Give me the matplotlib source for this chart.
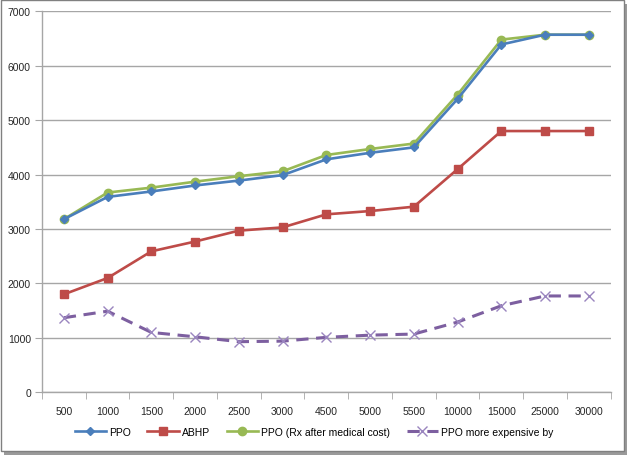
import matplotlib
matplotlib.use("Agg")
import matplotlib.pyplot as plt
from matplotlib.patches import Rectangle

categories = ["500", "1000", "1500", "2000", "2500", "3000", "4500", "5000", "5500",
              "10000", "15000", "25000", "30000"]
ppo = [3180, 3590, 3690, 3800, 3890, 3990, 4280, 4400, 4500, 5390, 6390, 6570, 6570]
abhp = [1800, 2100, 2590, 2770, 2970, 3030, 3270, 3330, 3410, 4100, 4800, 4800, 4800]
ppo_rx = [3180, 3670, 3760, 3870, 3970, 4060, 4360, 4470, 4570, 5470, 6480, 6570, 6570]
diff = [1370, 1490, 1100, 1020, 930, 940, 1010, 1050, 1070, 1290, 1590, 1770, 1770]

plt.rcParams['font.family'] = ['Liberation Sans', 'DejaVu Sans']

W, H = 628, 456
fig = plt.figure(figsize=(W/100, H/100), dpi=100)
fig.patch.set_facecolor('white')

# border with shadow
fig.patches.append(Rectangle((4/W, 0/H), (W-5)/W, (H-5)/H, transform=fig.transFigure,
                             facecolor='#9a9a9a', edgecolor='none', zorder=-3))
fig.patches.append(Rectangle((1/W, 4/H), (W-5)/W, (H-5)/H, transform=fig.transFigure,
                             facecolor='white', edgecolor='#808080', linewidth=1.0, zorder=-2))

ax = fig.add_axes([42/W, (H-393.3)/H, (610.7-42)/W, (393.3-12.3)/H])
ax.set_facecolor('none')
x = list(range(len(categories)))

ax.plot(x, ppo, color='#4A7EBB', lw=1.9, marker='D', ms=4, label='PPO', zorder=4)
ax.plot(x, abhp, color='#BE4B48', lw=1.9, marker='s', ms=6, label='ABHP', zorder=3)
ax.plot(x, ppo_rx, color='#98B954', lw=1.9, marker='o', ms=6, label='PPO (Rx after medical cost)', zorder=3)
ax.plot(x, diff, color='#7D5FA0', lw=2.2, ls=(0, (4, 2.5)), marker='x', ms=7, mew=1.0,
        markeredgecolor='#9a85bf', label='PPO more expensive by', zorder=3)

ax.set_xlim(-0.5, len(categories) - 0.5)
ax.set_ylim(0, 7000)
ax.set_yticks(range(0, 7001, 1000))
ax.yaxis.grid(True, color='#a6a6a6', lw=1.0)
ax.set_axisbelow(True)
ax.set_xticks(x)
ax.set_xticklabels(categories)
ax.set_xticks([i - 0.5 for i in range(len(categories) + 1)], minor=True)
ax.tick_params(axis='x', which='major', length=0, pad=10, labelsize=7.5, colors='#262626')
ax.tick_params(axis='x', which='minor', length=5, direction='out', color='#a6a6a6')
ax.tick_params(axis='y', length=5, direction='out', color='#a6a6a6', labelsize=7.5, pad=3)
ax.tick_params(axis='y', colors='#a6a6a6', labelcolor='#262626')
for s in ['top', 'right']:
    ax.spines[s].set_visible(False)
for s in ['left', 'bottom']:
    ax.spines[s].set_color('#a6a6a6')
    ax.spines[s].set_linewidth(1.0)

leg = fig.legend(loc='center', bbox_to_anchor=(0.5, (H-433)/H), ncol=4, frameon=False,
                 fontsize=7.5, handlelength=3.0, columnspacing=1.6, handletextpad=0.3)

fig.savefig('out.png', dpi=100)
